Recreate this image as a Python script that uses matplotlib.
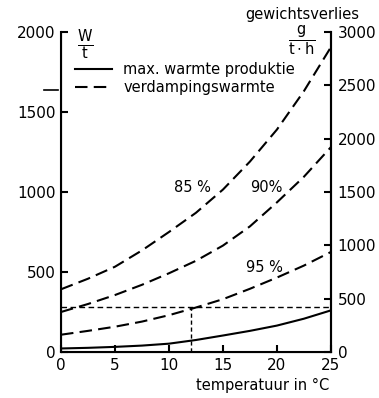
import matplotlib
matplotlib.use("Agg")
import matplotlib.pyplot as plt

# temperatuur (°C) en warmte (W/t)
temp = [0, 2.5, 5, 7.5, 10, 12.5, 15, 17.5, 20, 22.5, 25]
max_warmte = [22, 26, 32, 40, 52, 75, 103, 132, 165, 208, 260]
verdamping_85 = [392, 458, 533, 635, 750, 870, 1015, 1190, 1390, 1630, 1905]
verdamping_90 = [250, 300, 356, 420, 492, 570, 665, 785, 935, 1095, 1280]
verdamping_95 = [108, 132, 158, 190, 230, 278, 330, 395, 465, 540, 625]
rel_vocht = ["85 %", "90%", "95 %"]
label_pos = [(12.2, 1025), (19.0, 1025), (18.8, 531)]

# hulplijnen
ref_temp = 12
ref_warmte = 280

left_ticks = [0, 500, 1000, 1500, 2000]
right_ticks = [0, 500, 1000, 1500, 2000, 2500, 3000]
x_ticks = [0, 5, 10, 15, 20, 25]

plt.rcParams['font.family'] = 'DejaVu Sans'

fig = plt.figure(figsize=(3.79, 3.98), dpi=100)
ax = fig.add_axes([0.161, 0.1156, 0.712, 0.804])

ax.plot(temp, max_warmte, 'k-', lw=1.5, label='max. warmte produktie')
for i, y in enumerate([verdamping_85, verdamping_90, verdamping_95]):
    ax.plot(temp, y, 'k-', lw=1.5, dashes=(6, 3),
            label='verdampingswarmte' if i == 0 else None)
    ax.text(label_pos[i][0], label_pos[i][1], rel_vocht[i],
            ha='center', va='center', fontsize=10.5)

ax.plot([0, 25], [ref_warmte, ref_warmte], 'k-', lw=1.0, dashes=(4, 2.5))
ax.plot([ref_temp, ref_temp], [0, ref_warmte], 'k-', lw=1.0, dashes=(3, 2))

ax.set_xlim(0, 25)
ax.set_ylim(0, 2000)
ax.set_xticks(x_ticks)
ax.set_yticks(left_ticks)
ax.spines['top'].set_visible(False)
for s in ['left', 'right', 'bottom']:
    ax.spines[s].set_linewidth(1.5)
ax.tick_params(direction='in', length=5, width=1.5, labelsize=11, pad=4)

# losse streep links van de as
ax.plot([-1.6, -0.3], [1640, 1640], 'k-', lw=1.2, clip_on=False)

ax2 = ax.twinx()
ax2.set_ylim(0, 3000)
ax2.set_yticks(right_ticks)
ax2.spines['top'].set_visible(False)
ax2.spines['right'].set_linewidth(1.5)
ax2.tick_params(direction='in', length=5, width=1.5, labelsize=11, pad=5)

leg = ax.legend(loc='upper left', bbox_to_anchor=(0.05, 0.905), frameon=False,
                fontsize=10.5, handlelength=2.6, handletextpad=0.75,
                labelspacing=0.2, borderpad=0, borderaxespad=0)

ax.text(0.089, 0.962, r'$\frac{\mathrm{W}}{\mathrm{t}}$', transform=ax.transAxes,
        ha='center', va='center', fontsize=15)
ax.text(0.893, 0.972, r'$\frac{\mathrm{g}}{\mathrm{t\cdot h}}$', transform=ax.transAxes,
        ha='center', va='center', fontsize=15)
ax.text(0.893, 1.056, 'gewichtsverlies', transform=ax.transAxes,
        ha='center', va='center', fontsize=10.5)
ax.text(0.748, -0.106, 'temperatuur in °C', transform=ax.transAxes,
        ha='center', va='center', fontsize=10.5)

fig.savefig('out.png', dpi=100)
